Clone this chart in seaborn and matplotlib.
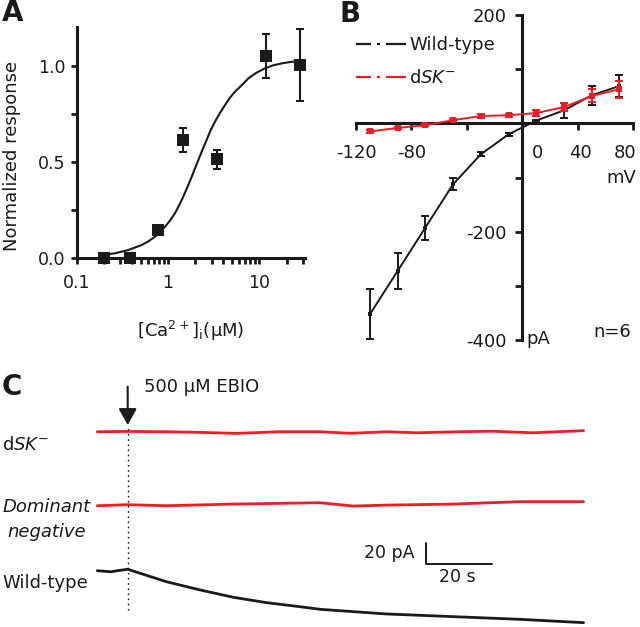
import numpy as np
import pandas as pd
import matplotlib
matplotlib.use('Agg')
import matplotlib.pyplot as plt
import seaborn as sns
from matplotlib.lines import Line2D

sns.set_theme(style='ticks')
plt.rcParams['font.family'] = ['DejaVu Sans']
plt.rcParams['mathtext.fontset'] = 'dejavusans'
plt.rcParams['axes.unicode_minus'] = False
plt.rcParams['lines.scale_dashes'] = False
for key in ['text.color', 'axes.labelcolor', 'xtick.color', 'ytick.color',
            'axes.edgecolor', 'xtick.labelcolor', 'ytick.labelcolor']:
    plt.rcParams[key] = 'black'

# ---------------- Panel A data ----------------
ca_conc = [0.2, 0.38, 0.78, 1.47, 3.47, 11.7, 27.9]
norm_resp = [0.0, 0.0, 0.144, 0.613, 0.512, 1.05, 1.004]
norm_err = [0.0, 0.0, 0.02, 0.06, 0.05, 0.116, 0.186]
fit_conc = [0.188, 0.263, 0.367, 0.515, 0.608, 0.72, 0.817, 0.927, 1.05, 1.19,
            1.32, 1.47, 1.64, 1.82, 1.98, 2.15, 2.38, 2.65, 2.94, 3.27,
            3.72, 4.21, 4.77, 5.42, 6.41, 7.59, 9.35, 11.5, 14.2, 17.6,
            21.7, 26.7]
fit_resp = [0.014, 0.023, 0.040, 0.066, 0.085, 0.109, 0.134, 0.161, 0.193, 0.231,
            0.271, 0.318, 0.370, 0.422, 0.466, 0.509, 0.561, 0.613, 0.665, 0.708,
            0.755, 0.795, 0.833, 0.865, 0.898, 0.934, 0.964, 0.986, 1.002, 1.012,
            1.019, 1.024]
a_xticks = [0.1, 1, 10]
a_xticklabels = ['0.1', '1', '10']
a_yticks = [0.0, 0.5, 1.0]
a_yticklabels = ['0.0', '0.5', '1.0']

# ---------------- Panel B data ----------------
voltage = [-110, -90, -70, -50, -30, -10, 10, 30, 50, 70]
wt_current = [-352.6, -272.6, -192.6, -112.6, -57.2, -20.3, 5.0, 24.0, 51.7, 69.0]
wt_err = [46, 33, 22, 11, 4, 3, 2, 14, 17, 20]
dsk_current = [-15.0, -8.5, -3.4, 5.8, 13.5, 15.0, 19.0, 30.0, 50.5, 63.0]
dsk_err = [3, 2, 2, 2, 3, 3, 6, 8, 12, 16]
b_xticks = [-120, -80, -40, 0, 40, 80]
b_xlabel_text = ['-120', '-80', '0', '40', '80']
b_xlabel_pos = [-120, -80, 11, 42, 74]
b_yticks = [-400, -300, -200, -100, 0, 100, 200]
b_yticklabels = ['-400', '', '-200', '', '', '', '200']

# ---------------- Panel C data (time in s, current in pA) ----------------
t_dsk = [0, 9.25, 21, 30, 42.4, 55, 67.8, 76.9, 88, 97.2, 110, 120, 132.6, 140, 148]
i_dsk = [0, 0.3, 0, -0.5, -1.6, 0, 0, -1.5, 0, -1, 0, 0.5, -1, 0, 1]
t_dn = [0, 9.25, 21, 41.4, 67.8, 77.9, 88, 108.4, 128.7, 148]
i_dn = [0, 1, 0, 1.6, 2.9, -0.3, 0.6, 1.6, 3.9, 3.9]
t_wt = [0, 4, 9.25, 21, 31.3, 41.4, 51.6, 61.7, 67.8, 88, 108.4, 128.7, 148]
i_wt = [0, -1, 1.4, -10.6, -18.6, -25.7, -30.9, -34.8, -37.3, -41.8, -44.4, -47.0, -50.2]
ebio_time = 9.25
trace_offsets = {'dsk': 134.3, 'dn': 62.8, 'wt': 0.0}

RED = '#ee1c24'
W, H = 640, 627
def fx(px):
    return px / W
def fy(py):
    return 1 - py / H

fig = plt.figure(figsize=(6.4, 6.27), dpi=100)

# ================= Panel A =================
axA = fig.add_axes([fx(76.7), fy(257.7), 228.7 / W, 230.4 / H])
axA.set_xscale('log')
sns.lineplot(x=fit_conc, y=fit_resp, ax=axA, color='k', lw=1.5, estimator=None, sort=False)
axA.errorbar(ca_conc, norm_resp, yerr=norm_err, fmt='none', ecolor='k',
             elinewidth=1.5, capsize=3, capthick=1.5, clip_on=False, zorder=3)
sns.scatterplot(x=ca_conc, y=norm_resp, ax=axA, marker='s', s=70, color='k',
                edgecolor='k', linewidth=0, clip_on=False, zorder=4)
axA.set_xlim(0.1, 32)
axA.set_ylim(0, 1.2)
for s in ['top', 'right']:
    axA.spines[s].set_visible(False)
for s in ['left', 'bottom']:
    axA.spines[s].set_linewidth(2.2)
    axA.spines[s].set_color('k')
axA.set_xticks(a_xticks)
axA.set_xticklabels(a_xticklabels)
minors = [m * d for d in [0.1, 1, 10] for m in range(2, 10) if m * d <= 32]
axA.set_xticks(minors, minor=True)
axA.xaxis.set_minor_formatter(matplotlib.ticker.NullFormatter())
axA.set_yticks(a_yticks)
axA.set_yticklabels(a_yticklabels)
axA.set_yticks([0.25, 0.75], minor=True)
axA.tick_params(which='both', direction='out', length=4, width=2, color='k',
                labelsize=12.5, labelcolor='k')
axA.tick_params(axis='x', which='both', pad=8)
axA.tick_params(axis='y', which='both', pad=4)
axA.set_ylabel('Normalized response', fontsize=13, color='k', va='center')
axA.yaxis.set_label_coords(-0.283, 0.441)
axA.set_xlabel('[Ca$^{2+}$]$_{\\mathrm{i}}$(μM)', fontsize=13, color='k', va='center')
axA.xaxis.set_label_coords(0.499, -0.32)

# ================= Panel B =================
axB = fig.add_axes([fx(356), fy(340), 277.3 / W, 325 / H])
axB.errorbar(voltage, wt_current, yerr=wt_err, fmt='none', ecolor='k',
             elinewidth=1.4, capsize=3, capthick=1.4, zorder=3)
sns.lineplot(x=voltage, y=wt_current, ax=axB, color='k', lw=1.4, marker='s',
             markersize=2.5, markeredgewidth=0, estimator=None, sort=False, zorder=3)
axB.errorbar(voltage, dsk_current, yerr=dsk_err, fmt='none', ecolor=RED,
             elinewidth=1.4, capsize=3, capthick=1.4, zorder=4)
sns.lineplot(x=voltage, y=dsk_current, ax=axB, color=RED, lw=1.4, marker='s',
             markersize=4, markeredgewidth=0, estimator=None, sort=False, zorder=4)
axB.set_xlim(-120, 80)
axB.set_ylim(-400, 200)
for s in ['top', 'right']:
    axB.spines[s].set_visible(False)
axB.spines['left'].set_position(('data', 0))
axB.spines['bottom'].set_position(('data', 0))
for s in ['left', 'bottom']:
    axB.spines[s].set_linewidth(2.2)
    axB.spines[s].set_color('k')
axB.set_xticks(b_xticks)
axB.set_xticklabels([''] * len(b_xticks))
axB.set_yticks(b_yticks)
axB.set_yticklabels(b_yticklabels)
axB.tick_params(axis='x', direction='out', length=5, width=2, color='k')
axB.tick_params(axis='y', direction='out', length=5, width=2, color='k',
                labelsize=13, labelcolor='k', pad=6)
axB.set_xlabel('')
axB.set_ylabel('')
for lab, pos in zip(b_xlabel_text, b_xlabel_pos):
    axB.text(pos, -54.3, lab, ha='center', va='center', fontsize=13, color='k')
axB.text(71.6, -100.4, 'mV', ha='center', va='center', fontsize=13, color='k')
axB.text(11.5, -399, 'pA', ha='center', va='center', fontsize=13, color='k')
axB.text(65, -385, 'n=6', ha='center', va='center', fontsize=13, color='k')

dash = (0, (10.8, 4.3, 2.2, 4.3, 40))
handles = [Line2D([], [], color='k', lw=1.6, linestyle=dash),
           Line2D([], [], color=RED, lw=1.6, linestyle=dash)]
fig.legend(handles, ['Wild-type', 'd$\\mathit{SK}^{-}$'], loc='upper left',
           bbox_to_anchor=(fx(356), fy(36)), bbox_transform=fig.transFigure,
           frameon=False, handlelength=2.75, handletextpad=0.2, labelspacing=0.85,
           borderpad=0, borderaxespad=0, fontsize=13, labelcolor='k')

# ================= Panel C =================
axC = fig.add_axes([fx(90), 0, 510 / W, 247 / H])
sns.lineplot(x=t_dsk, y=np.array(i_dsk) + trace_offsets['dsk'], ax=axC, color=RED,
             lw=2.0, estimator=None, sort=False)
sns.lineplot(x=t_dn, y=np.array(i_dn) + trace_offsets['dn'], ax=axC, color=RED,
             lw=2.0, estimator=None, sort=False)
sns.lineplot(x=t_wt, y=np.array(i_wt) + trace_offsets['wt'], ax=axC, color='k',
             lw=2.0, estimator=None, sort=False)
axC.set_xlim(-2.22, 153.0)
axC.set_ylim(-54.4, 184.3)
axC.axis('off')
axC.annotate('', xy=(ebio_time, 140.8), xytext=(ebio_time, 177.8),
             arrowprops=dict(arrowstyle='-|>,head_length=0.45,head_width=0.25',
                             color='k', lw=1.5, mutation_scale=22,
                             shrinkA=0, shrinkB=0))
axC.vlines(ebio_time, -38, 140.8, colors='k', linestyles=(0, (1.2, 2.5)), lw=1)
# scale bar: 20 pA / 20 s
sb_t, sb_i, sb_dt, sb_di = 100, 6.5, 20, 20
axC.plot([sb_t, sb_t, sb_t + sb_dt], [sb_i + sb_di, sb_i, sb_i], color='k', lw=1.4)

fig.text(fx(415), fy(553), '20 pA', ha='right', va='center', fontsize=12.5, color='k')
fig.text(fx(457), fy(577), '20 s', ha='center', va='center', fontsize=12.5, color='k')
fig.text(fx(144), fy(387), '500 μM EBIO', ha='left', va='center', fontsize=13, color='k')
fig.text(fx(2), fy(445), 'd$\\mathit{SK}^{-}$', ha='left', va='center', fontsize=13, color='k')
fig.text(fx(47), fy(507), 'Dominant', ha='center', va='center', fontsize=13,
         style='italic', color='k')
fig.text(fx(47), fy(532), 'negative', ha='center', va='center', fontsize=13,
         style='italic', color='k')
fig.text(fx(2), fy(583), 'Wild-type', ha='left', va='center', fontsize=13, color='k')

# panel letters
fig.text(fx(2), fy(13), 'A', ha='left', va='center', fontsize=20, fontweight='bold', color='k')
fig.text(fx(339), fy(14), 'B', ha='left', va='center', fontsize=20, fontweight='bold', color='k')
fig.text(fx(2), fy(387), 'C', ha='left', va='center', fontsize=20, fontweight='bold', color='k')

fig.savefig('out.png', dpi=100)
